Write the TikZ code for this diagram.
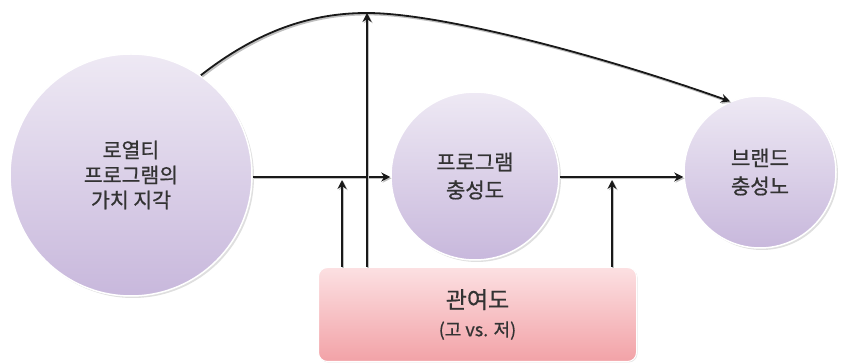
\documentclass[tikz,border=0pt]{standalone}
\usepackage{fontspec}
\setmainfont{Noto Sans CJK KR}[FakeBold=0.7]
\usetikzlibrary{arrows.meta,shadows,calc}
\definecolor{txt}{HTML}{333333}
\definecolor{lavtop}{HTML}{EEE9F4}
\definecolor{lavbot}{HTML}{C8B8DC}
\definecolor{pinktop}{HTML}{FCE0E2}
\definecolor{pinkbot}{HTML}{F2A2A7}
\tikzset{
  bubble/.style={circle, top color=lavtop, bottom color=lavbot, draw=white, line width=1.5pt,
    drop shadow={opacity=0.25, shadow xshift=2pt, shadow yshift=-2pt},
    text=txt, align=center, inner sep=0pt},
  factor/.style={rounded corners=9pt, top color=pinktop, bottom color=pinkbot, draw=white, line width=1pt,
    drop shadow={opacity=0.2, shadow xshift=1pt, shadow yshift=-1pt},
    text=txt, align=center, minimum width=318pt, minimum height=94pt},
  shade line/.style={preaction={draw=black!25, line width=2.2pt, transform canvas={shift={(1.3pt,-1.3pt)}}}},
  link/.style={draw=black!90, line width=1.8pt, shade line, -{Stealth[length=9pt,width=9pt,inset=3pt]}},
}
\begin{document}
\begin{tikzpicture}[x=1pt,y=-1pt]
\useasboundingbox (0,0) rectangle (847,363);
\node[bubble, minimum size=242pt, font=\fontsize{20.5}{25}\selectfont] (value) at (131,175) {로열티\\프로그램의\\가치 지각};
\node[bubble, minimum size=168pt, font=\fontsize{21}{28}\selectfont] (prog) at (475,176) {프로그램\\충성도};
\node[bubble, minimum size=152pt, font=\fontsize{21}{28}\selectfont] (brand) at (760,172) {브랜드\\충성노};
\node[factor, font=\fontsize{18}{24}\selectfont] (inv) at (477.5,314.5) {{\fontsize{23}{28}\selectfont 관여도}\\[4pt](고 vs. 저)};

\coordinate (peak) at (367,13);
\coordinate (m1) at (342,180);
\coordinate (m2) at (612,180);

\draw[link] (value.east |- 0,177) -- (prog.west |- 0,177);
\draw[link] (prog.east |- 0,177) -- (brand.west |- 0,177);
\draw[link]
  (value.55) .. controls (265,25) and (320,13) .. (peak)
  .. controls (440,13) and (600,55) .. (brand.113);
\draw[link] (inv.north -| peak) -- (peak);
\draw[link] (inv.north -| m1) -- (m1);
\draw[link] (inv.north -| m2) -- (m2);
\end{tikzpicture}
\end{document}
